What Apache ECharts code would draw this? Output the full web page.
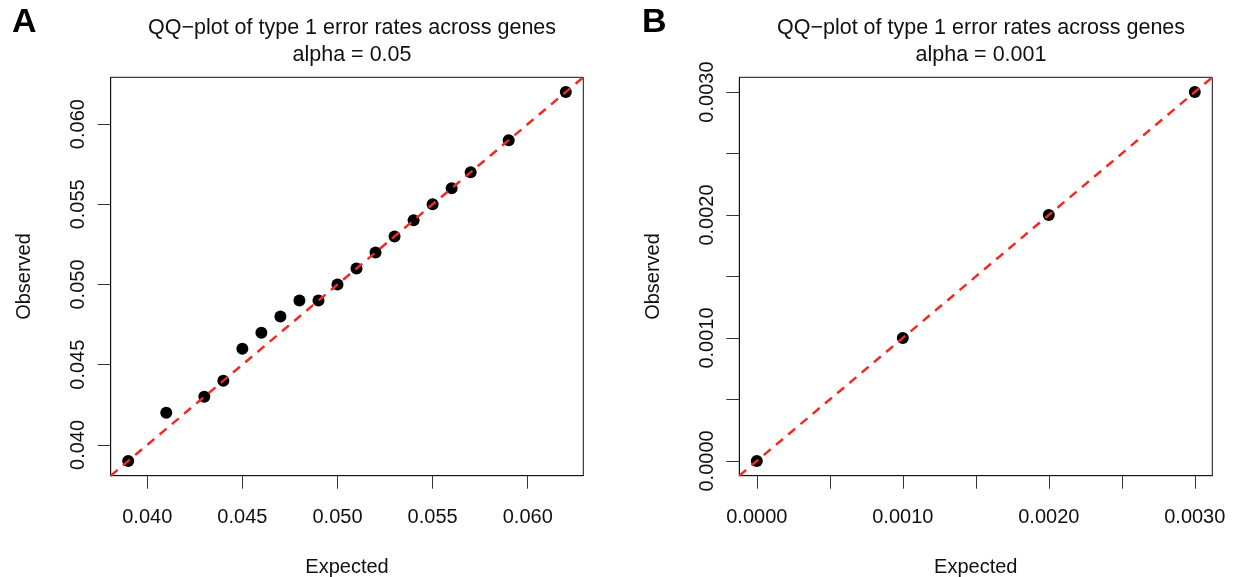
<!DOCTYPE html>
<html>
<head>
<meta charset="utf-8">
<script src="https://cdn.jsdelivr.net/npm/echarts@6/dist/echarts.min.js"></script>
<style>
  html, body { margin: 0; padding: 0; background: #fff; }
  #chart { width: 1234px; height: 577px; }
</style>
</head>
<body>
<div id="chart"></div>
<script>
// panel A: alpha = 0.05
var expectedA = [0.039, 0.041, 0.043, 0.044, 0.045, 0.046, 0.047, 0.048, 0.049, 0.050,
  0.051, 0.052, 0.053, 0.054, 0.055, 0.056, 0.057, 0.059, 0.062];
var observedA = [0.039, 0.042, 0.043, 0.044, 0.046, 0.047, 0.048, 0.049, 0.049, 0.050,
  0.051, 0.052, 0.053, 0.054, 0.055, 0.056, 0.057, 0.059, 0.062];
var rangeA = [0.03808, 0.06292];
var ticksA = [0.040, 0.045, 0.050, 0.055, 0.060];

// panel B: alpha = 0.001
var expectedB = [0.0000, 0.0010, 0.0020, 0.0030];
var observedB = [0.0000, 0.0010, 0.0020, 0.0030];
var rangeB = [-0.00012, 0.00312];
var ticksB = [0.0000, 0.0005, 0.0010, 0.0015, 0.0020, 0.0025, 0.0030];
var labelsB = [0.0000, 0.0010, 0.0020, 0.0030];

var font = 'Liberation Sans';
var chart = echarts.init(document.getElementById('chart'));

function pairs(xs, ys) {
  return xs.map(function (x, i) { return [x, ys[i]]; });
}

function axis(type, gridIndex, range, ticks, labels, digits, name) {
  var isY = type === 'y';
  return {
    type: 'value',
    gridIndex: gridIndex,
    min: range[0],
    max: range[1],
    name: name,
    nameLocation: 'middle',
    nameGap: isY ? 76 : 82,
    nameRotate: isY ? 90 : 0,
    nameTextStyle: { fontFamily: font, fontSize: 20, color: '#111' },
    axisLine: { show: true, onZero: false, lineStyle: { color: '#111', width: 1 } },
    axisTick: { show: true, inside: false, length: 13, customValues: ticks, lineStyle: { color: '#333', width: 1 } },
    axisLabel: {
      customValues: labels,
      rotate: isY ? 90 : 0,
      margin: isY ? 22 : 32,
      fontFamily: font,
      fontSize: 20,
      color: '#111',
      formatter: function (v) { return v.toFixed(digits); }
    },
    splitLine: { show: false }
  };
}

var scatterStyle = { color: '#000', opacity: 1 };
var lineStyle = { color: '#ee2b24', width: 2.5, type: [9, 7] };
var panelLetter = { fontFamily: font, fontSize: 34, fontWeight: 'bold', color: '#000' };
var titleStyle = { fontFamily: font, fontSize: 21.5, fontWeight: 'normal', color: '#111', lineHeight: 27 };

var option = {
  backgroundColor: '#fff',
  animation: false,
  title: [
    { text: 'A', left: 12, top: 6, padding: 0, textStyle: panelLetter },
    { text: 'B', left: 642, top: 6, padding: 0, textStyle: panelLetter },
    {
      text: 'QQ\u2212plot of type 1 error rates across genes\nalpha = 0.05',
      left: 347, top: 10, textAlign: 'center', textStyle: titleStyle
    },
    {
      text: 'QQ\u2212plot of type 1 error rates across genes\nalpha = 0.001',
      left: 976, top: 10, textAlign: 'center', textStyle: titleStyle
    }
  ],
  grid: [
    { left: 110.7, top: 77.3, width: 472.6, height: 398.4, outerBoundsMode: 'none', containLabel: false,
      show: true, borderColor: '#111', borderWidth: 1, backgroundColor: 'transparent' },
    { left: 739.3, top: 77.3, width: 473, height: 398.4, outerBoundsMode: 'none', containLabel: false,
      show: true, borderColor: '#111', borderWidth: 1, backgroundColor: 'transparent' }
  ],
  xAxis: [
    axis('x', 0, rangeA, ticksA, ticksA, 3, 'Expected'),
    axis('x', 1, rangeB, ticksB, labelsB, 4, 'Expected')
  ],
  yAxis: [
    axis('y', 0, rangeA, ticksA, ticksA, 3, 'Observed'),
    axis('y', 1, rangeB, ticksB, labelsB, 4, 'Observed')
  ],
  series: [
    { type: 'scatter', xAxisIndex: 0, yAxisIndex: 0, data: pairs(expectedA, observedA), symbolSize: 12, itemStyle: scatterStyle, z: 2 },
    { type: 'line', xAxisIndex: 0, yAxisIndex: 0, data: pairs(rangeA, rangeA), showSymbol: false, symbol: 'none', lineStyle: lineStyle, silent: true, clip: true, z: 3 },
    { type: 'scatter', xAxisIndex: 1, yAxisIndex: 1, data: pairs(expectedB, observedB), symbolSize: 12, itemStyle: scatterStyle, z: 2 },
    { type: 'line', xAxisIndex: 1, yAxisIndex: 1, data: pairs(rangeB, rangeB), showSymbol: false, symbol: 'none', lineStyle: lineStyle, silent: true, clip: true, z: 3 }
  ]
};

chart.setOption(option);
</script>
</body>
</html>
